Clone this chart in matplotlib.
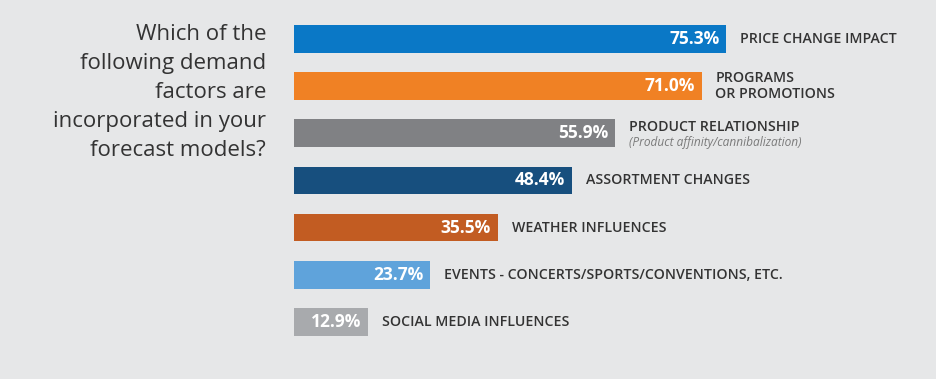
import matplotlib.pyplot as plt

# Data
factors = ["PRICE CHANGE IMPACT", "PROGRAMS\nOR PROMOTIONS", "PRODUCT RELATIONSHIP",
           "ASSORTMENT CHANGES", "WEATHER INFLUENCES",
           "EVENTS - CONCERTS/SPORTS/CONVENTIONS, ETC.", "SOCIAL MEDIA INFLUENCES"]
values = [75.3, 71.0, 55.9, 48.4, 35.5, 23.7, 12.9]
colors = ["#0a78c6", "#f08124", "#808184", "#174f7e", "#c25c22", "#5fa3db", "#a8aaad"]
subnote = "(Product affinity/cannibalization)"
question = "Which of the\nfollowing demand\nfactors are\nincorporated in your\nforecast models?"

bg = "#e6e7e8"
W, H = 936, 379
fig = plt.figure(figsize=(W / 100, H / 100), dpi=100, facecolor=bg)

# axes spans from bar start to right edge, full height
ax = fig.add_axes([294 / W, 0, (W - 294) / W, 1])
ax.set_facecolor(bg)
ax.set_xlim(0, (W - 294) / 5.74)
ax.set_ylim(7.208, -0.822)
ax.axis("off")

pos = list(range(len(values)))
ax.barh(pos, values, height=0.583, color=colors)

for i, v in enumerate(values):
    ax.annotate(f"{v:.1f}%", xy=(v, i), xytext=(-5, 0), textcoords="offset points",
                ha="right", va="center", color="white", fontsize=12.5,
                fontweight="bold", family="Open Sans")
    if i == 2:
        ax.annotate(factors[i], xy=(v, i), xytext=(10, 4.5), textcoords="offset points",
                    ha="left", va="center", color="#333333", fontsize=10.2,
                    fontweight="semibold", family="Open Sans")
        ax.annotate(subnote, xy=(v, i), xytext=(10, -7), textcoords="offset points",
                    ha="left", va="center", color="#7a7a7a", fontsize=8.6,
                    style="italic", family="Open Sans")
    else:
        ax.annotate(factors[i], xy=(v, i), xytext=(10, 0), textcoords="offset points",
                    ha="left", va="center", color="#333333", fontsize=10.2,
                    fontweight="semibold", family="Open Sans", linespacing=1.25)

fig.text(266 / W, 1 - 24 / H, question, ha="right", va="top", multialignment="right",
         fontsize=16, color="#333333", family="Open Sans", linespacing=1.5)

fig.savefig("out.png", dpi=100, facecolor=bg)
